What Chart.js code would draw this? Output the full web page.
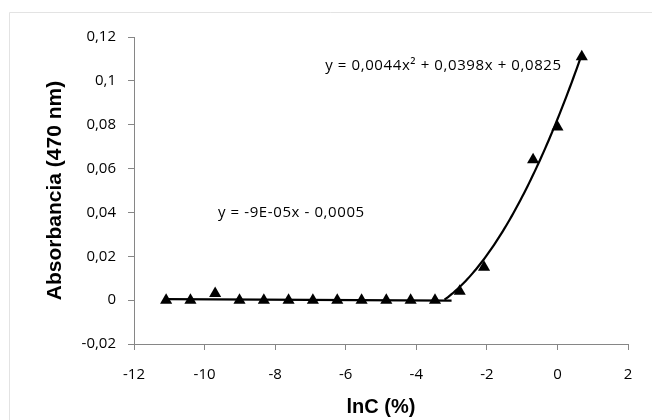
<!DOCTYPE html>
<html>
<head>
<meta charset="utf-8">
<script src="https://cdn.jsdelivr.net/npm/chart.js@4.4.1/dist/chart.umd.min.js"></script>
<style>
  html, body { margin: 0; padding: 0; background: #fff; }
  canvas { display: block; }
</style>
</head>
<body>
<canvas id="chart" width="652" height="420"></canvas>
<script>
// ln of concentration (%) and measured absorbance at 470 nm
const lnC = [-11.09, -10.40, -9.70, -9.01, -8.32, -7.62, -6.93, -6.24, -5.55, -4.85, -4.16, -3.47, -2.77, -2.08, -0.69, 0, 0.69];
const absorbance = [0, 0, 0.003, 0, 0, 0, 0, 0, 0, 0, 0, 0, 0.004, 0.015, 0.064, 0.079, 0.111];

const xTicks = [-12, -10, -8, -6, -4, -2, 0, 2];
const yTicks = [-0.02, 0, 0.02, 0.04, 0.06, 0.08, 0.1, 0.12];

// trendlines as printed on the chart
const linearFit = [-0.00009, -0.0005];        // slope, intercept
const linearRange = [-11.09, -3.0];
const quadFit = [0.0044, 0.0398, 0.0825];     // a, b, c
const quadRange = [-3.2, 0.69];
const linearLabel = 'y = -9E-05x - 0,0005';
const quadLabel = 'y = 0,0044x² + 0,0398x + 0,0825';

const points = lnC.map((x, i) => ({ x: x, y: absorbance[i] }));

const linearLine = linearRange.map(x => ({ x: x, y: linearFit[0] * x + linearFit[1] }));

const quadLine = [];
for (let x = quadRange[0]; x < quadRange[1]; x += 0.05) {
  quadLine.push({ x: x, y: quadFit[0] * x * x + quadFit[1] * x + quadFit[2] });
}
quadLine.push({ x: quadRange[1], y: quadFit[0] * quadRange[1] ** 2 + quadFit[1] * quadRange[1] + quadFit[2] });

const fmt = v => String(v).replace('.', ',');
const axisGray = '#868686';
const tickFont = { family: '"Open Sans", sans-serif', size: 15 };
const titleFont = { family: '"Liberation Sans", Arial, sans-serif', size: 20, weight: 'bold' };

const decorations = {
  id: 'decorations',
  beforeDraw(chart) {
    const ctx = chart.ctx;
    ctx.save();
    ctx.strokeStyle = '#e3e3e3';
    ctx.lineWidth = 1;
    ctx.beginPath();
    ctx.moveTo(9.5, 420);
    ctx.lineTo(9.5, 12.5);
    ctx.lineTo(652, 12.5);
    ctx.stroke();
    ctx.restore();
  },
  afterDraw(chart) {
    const ctx = chart.ctx;
    const xs = chart.scales.x, ys = chart.scales.y;
    ctx.save();
    ctx.fillStyle = '#000';
    ctx.font = '15px "Open Sans", sans-serif';
    ctx.letterSpacing = '0.6px';
    ctx.textAlign = 'center';
    ctx.textBaseline = 'middle';
    ctx.fillText(linearLabel, xs.getPixelForValue(-7.54), ys.getPixelForValue(0.040));
    ctx.fillText(quadLabel, xs.getPixelForValue(-3.23), ys.getPixelForValue(0.107));
    ctx.restore();
  }
};

new Chart(document.getElementById('chart'), {
  type: 'scatter',
  data: {
    datasets: [
      {
        label: 'Absorbancia',
        data: points,
        pointStyle: 'triangle',
        pointRadius: 7,
        pointHoverRadius: 7,
        backgroundColor: '#000',
        borderColor: '#000',
        borderWidth: 0,
        order: 0
      },
      {
        label: 'lineal',
        data: linearLine,
        showLine: true,
        pointRadius: 0,
        borderColor: '#000',
        borderWidth: 2.2,
        order: 1
      },
      {
        label: 'polinómica',
        data: quadLine,
        showLine: true,
        pointRadius: 0,
        borderColor: '#000',
        borderWidth: 2.2,
        tension: 0,
        order: 1
      }
    ]
  },
  options: {
    responsive: false,
    animation: false,
    devicePixelRatio: 1,
    layout: { padding: { left: 0, top: 37, right: 24, bottom: 0 } },
    plugins: {
      legend: { display: false },
      tooltip: { enabled: false }
    },
    scales: {
      x: {
        type: 'linear',
        min: -12,
        max: 2,
        afterBuildTicks: s => { s.ticks = xTicks.map(v => ({ value: v })); },
        afterFit: s => { s.height = 76; },
        grid: { drawOnChartArea: false, drawTicks: true, tickLength: 6, color: axisGray },
        border: { color: axisGray, width: 1 },
        ticks: { color: '#000', font: tickFont, padding: 16, maxRotation: 0, callback: v => fmt(v) },
        title: { display: true, text: 'lnC (%)', color: '#000', font: titleFont, padding: { top: 0, bottom: 1 } }
      },
      y: {
        type: 'linear',
        min: -0.02,
        max: 0.12,
        afterBuildTicks: s => { s.ticks = yTicks.map(v => ({ value: v })); },
        afterFit: s => { s.width = 134; },
        grid: { drawOnChartArea: false, drawTicks: true, tickLength: 6, color: axisGray },
        border: { color: axisGray, width: 1 },
        ticks: { color: '#000', font: tickFont, padding: 12, callback: v => fmt(v) },
        title: { display: true, text: 'Absorbancia (470 nm)', color: '#000', font: { family: titleFont.family, size: 21, weight: 'bold' }, padding: { top: 43, bottom: 0 } }
      }
    }
  },
  plugins: [decorations]
});
</script>
</body>
</html>
